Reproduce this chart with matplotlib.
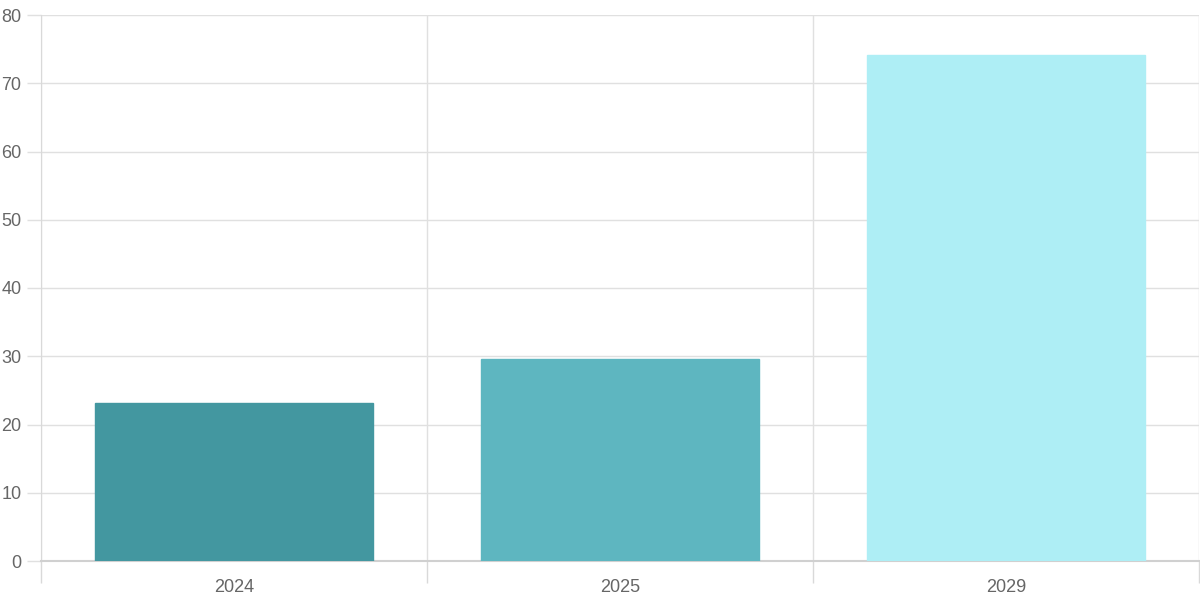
import matplotlib
matplotlib.use("Agg")
import matplotlib.pyplot as plt
import numpy as np

# data
years = ["2024", "2025", "2029"]
values = [23.2, 29.6, 74.1]
colors = ["#4397a0", "#5eb6c0", "#aeeef5"]

plt.rcParams['font.family'] = ['Liberation Sans', 'DejaVu Sans']

fig = plt.figure(figsize=(12, 6.04), dpi=100)
ax = fig.add_axes([41/1200, 1 - 561/604, 1158/1200, 546/604])

x = np.arange(len(years))
ax.bar(x, values, width=0.72, color=colors, edgecolor=colors, linewidth=1, zorder=3)

ax.set_xlim(-0.5, len(years) - 0.5)
ax.set_ylim(0, 80)
ax.set_yticks(np.arange(0, 81, 10))
ax.set_xticks(x)
ax.set_xticklabels(years)
ax.set_xticks(np.arange(-0.5, len(years), 1), minor=True)

ax.grid(axis='y', which='major', color='#e0e0e0', linewidth=1, zorder=0)
ax.grid(axis='x', which='minor', color='#e0e0e0', linewidth=1, zorder=0)

ax.tick_params(axis='x', which='major', length=0, pad=13, labelsize=13, labelcolor='#666666')
ax.tick_params(axis='x', which='minor', length=16, color='#d9d9d9', width=1)
ax.tick_params(axis='y', length=10, color='#e0e0e0', width=1, pad=4, labelsize=13, labelcolor='#666666')

for side in ['top', 'right']:
    ax.spines[side].set_visible(False)
ax.spines['left'].set_color('#d9d9d9')
ax.spines['bottom'].set_color('#d0d0d0')
ax.spines['bottom'].set_linewidth(1.5)

fig.savefig("out.png", dpi=100)
